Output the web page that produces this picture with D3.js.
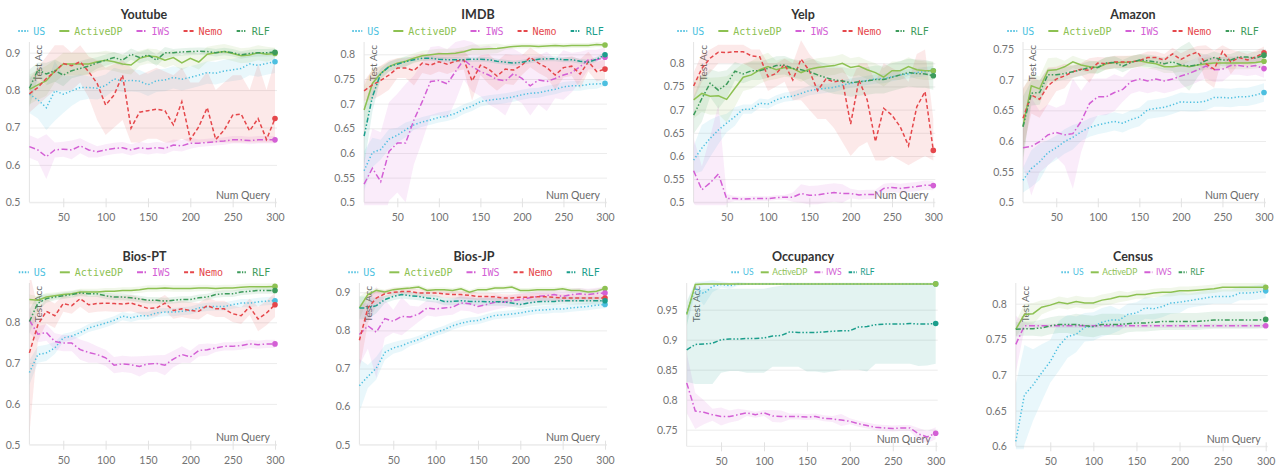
<!DOCTYPE html>
<html><head><meta charset="utf-8">
<script src="https://cdn.jsdelivr.net/npm/d3@7"></script>
<style>body{margin:0;background:#fff;}svg{display:block}</style>
</head><body><svg id="c" width="1277" height="466"></svg>
<script>
const numQuery = [10,20,30,40,50,60,70,80,90,100,110,120,130,140,150,160,170,180,190,200,210,220,230,240,250,260,270,280,290,300];
const xTicks = [50,100,150,200,250,300];

// ---------- Youtube ----------
const youtubeTicks = [0.5,0.6,0.7,0.8,0.9];
const youtubeUS = [0.789,0.774,0.753,0.798,0.789,0.798,0.807,0.807,0.805,0.812,0.830,0.824,0.826,0.824,0.814,0.825,0.827,0.834,0.829,0.834,0.840,0.847,0.845,0.851,0.854,0.858,0.870,0.866,0.871,0.876];
const youtubeActiveDP = [0.802,0.814,0.825,0.851,0.870,0.870,0.870,0.870,0.876,0.880,0.876,0.870,0.867,0.885,0.891,0.889,0.880,0.887,0.873,0.885,0.875,0.896,0.900,0.903,0.898,0.892,0.894,0.900,0.896,0.898];
const youtubeIWS = [0.649,0.640,0.622,0.640,0.642,0.640,0.651,0.640,0.635,0.640,0.644,0.646,0.640,0.646,0.643,0.646,0.644,0.653,0.651,0.658,0.658,0.660,0.662,0.664,0.667,0.667,0.665,0.667,0.667,0.667];
const youtubeNemo = [0.790,0.807,0.831,0.849,0.871,0.865,0.876,0.849,0.818,0.760,0.787,0.840,0.698,0.741,0.745,0.749,0.745,0.707,0.769,0.668,0.702,0.753,0.668,0.693,0.733,0.736,0.691,0.724,0.668,0.724];
const youtubeRLF = [0.805,0.854,0.843,0.852,0.840,0.852,0.858,0.864,0.873,0.880,0.887,0.880,0.896,0.887,0.894,0.880,0.900,0.900,0.902,0.903,0.904,0.903,0.900,0.903,0.900,0.894,0.898,0.900,0.900,0.901];
const youtubeUSSpread = [0.05,0.05,0.06,0.08,0.05,0.04,0.035,0.03,0.03,0.03,0.03,0.03,0.03,0.03,0.03,0.03,0.03,0.03,0.03,0.03,0.03,0.03,0.03,0.03,0.03,0.03,0.03,0.03,0.03,0.03];
const youtubeActiveDPSpread = [0.04,0.04,0.04,0.03,0.03,0.03,0.03,0.03,0.025,0.025,0.025,0.025,0.025,0.02,0.02,0.02,0.02,0.02,0.02,0.02,0.02,0.02,0.02,0.02,0.02,0.02,0.02,0.02,0.02,0.015];
const youtubeIWSSpread = [0.03,0.03,0.06,0.02,0.02,0.025,0.02,0.02,0.015,0.015,0.015,0.015,0.015,0.015,0.015,0.015,0.015,0.015,0.015,0.015,0.01,0.01,0.01,0.01,0.01,0.01,0.01,0.01,0.01,0.01];
const youtubeNemoLow = [0.74,0.76,0.78,0.80,0.80,0.80,0.82,0.78,0.72,0.68,0.70,0.72,0.66,0.66,0.67,0.67,0.66,0.66,0.67,0.66,0.66,0.66,0.66,0.66,0.66,0.66,0.66,0.66,0.66,0.66];
const youtubeNemoHigh = [0.83,0.86,0.89,0.92,0.92,0.90,0.92,0.89,0.88,0.86,0.87,0.88,0.86,0.84,0.85,0.86,0.85,0.84,0.86,0.82,0.82,0.85,0.80,0.82,0.84,0.84,0.80,0.87,0.80,0.88];
const youtubeRLFSpread = [0.05,0.02,0.03,0.03,0.03,0.02,0.02,0.02,0.015,0.015,0.015,0.015,0.015,0.015,0.015,0.015,0.015,0.01,0.01,0.01,0.01,0.01,0.01,0.01,0.01,0.01,0.01,0.01,0.01,0.01];

// ---------- IMDB ----------
const imdbTicks = [0.5,0.55,0.6,0.65,0.7,0.75,0.8];
const imdbUS = [0.564,0.601,0.607,0.628,0.636,0.647,0.657,0.663,0.667,0.672,0.675,0.680,0.689,0.695,0.704,0.707,0.709,0.711,0.714,0.718,0.721,0.722,0.726,0.729,0.734,0.736,0.736,0.739,0.740,0.741];
const imdbActiveDP = [0.687,0.741,0.761,0.775,0.782,0.786,0.792,0.797,0.799,0.801,0.801,0.802,0.805,0.810,0.810,0.811,0.812,0.814,0.816,0.817,0.817,0.816,0.817,0.818,0.817,0.818,0.818,0.818,0.820,0.819];
const imdbIWS = [0.537,0.569,0.542,0.603,0.620,0.620,0.667,0.704,0.745,0.747,0.740,0.765,0.789,0.775,0.765,0.758,0.749,0.746,0.761,0.751,0.736,0.748,0.745,0.751,0.758,0.763,0.775,0.789,0.789,0.794];
const imdbNemo = [0.726,0.738,0.747,0.758,0.772,0.772,0.767,0.782,0.778,0.785,0.780,0.786,0.789,0.746,0.778,0.770,0.756,0.770,0.768,0.778,0.794,0.782,0.773,0.758,0.773,0.776,0.760,0.785,0.765,0.770];
const imdbRLF = [0.634,0.714,0.761,0.775,0.780,0.785,0.789,0.792,0.792,0.790,0.789,0.789,0.789,0.790,0.790,0.789,0.786,0.784,0.782,0.784,0.787,0.790,0.791,0.791,0.789,0.789,0.786,0.784,0.790,0.799];
const imdbUSSpread = [0.04,0.03,0.02,0.02,0.015,0.015,0.01,0.01,0.01,0.01,0.01,0.01,0.01,0.01,0.01,0.01,0.01,0.01,0.01,0.01,0.01,0.01,0.01,0.01,0.01,0.01,0.01,0.01,0.01,0.005];
const imdbActiveDPSpread = [0.05,0.03,0.015,0.01,0.01,0.01,0.01,0.01,0.01,0.01,0.01,0.01,0.01,0.01,0.01,0.01,0.01,0.005,0.005,0.005,0.005,0.005,0.005,0.005,0.005,0.005,0.005,0.005,0.005,0.005];
const imdbIWSSpread = [0.05,0.08,0.1,0.1,0.1,0.12,0.09,0.08,0.07,0.07,0.07,0.06,0.04,0.05,0.05,0.06,0.06,0.07,0.05,0.05,0.06,0.05,0.06,0.04,0.05,0.04,0.03,0.02,0.02,0.02];
const imdbNemoSpread = [0.02,0.03,0.03,0.03,0.02,0.02,0.03,0.02,0.02,0.02,0.02,0.02,0.02,0.04,0.02,0.03,0.03,0.03,0.03,0.02,0.02,0.02,0.02,0.03,0.02,0.02,0.03,0.02,0.02,0.02];
const imdbRLFSpread = [0.06,0.03,0.01,0.01,0.01,0.01,0.005,0.005,0.005,0.005,0.005,0.005,0.005,0.005,0.005,0.005,0.005,0.005,0.005,0.005,0.005,0.005,0.005,0.005,0.005,0.005,0.005,0.005,0.005,0.005];

// ---------- Yelp ----------
const yelpTicks = [0.5,0.55,0.6,0.65,0.7,0.75,0.8];
const yelpUS = [0.591,0.617,0.638,0.656,0.671,0.685,0.701,0.701,0.714,0.712,0.721,0.727,0.729,0.735,0.741,0.744,0.746,0.748,0.753,0.757,0.760,0.763,0.766,0.767,0.771,0.775,0.777,0.780,0.782,0.784];
const yelpActiveDP = [0.721,0.735,0.729,0.730,0.722,0.746,0.770,0.775,0.786,0.793,0.786,0.791,0.789,0.780,0.787,0.791,0.793,0.795,0.800,0.791,0.794,0.786,0.780,0.770,0.784,0.784,0.793,0.786,0.784,0.784];
const yelpIWS = [0.568,0.527,0.542,0.561,0.508,0.508,0.507,0.508,0.508,0.508,0.510,0.511,0.511,0.519,0.515,0.516,0.519,0.521,0.519,0.519,0.516,0.517,0.517,0.530,0.532,0.530,0.532,0.534,0.537,0.536];
const yelpNemo = [0.751,0.789,0.811,0.824,0.823,0.825,0.825,0.816,0.814,0.771,0.778,0.798,0.764,0.809,0.784,0.741,0.766,0.760,0.763,0.669,0.764,0.721,0.631,0.703,0.688,0.663,0.622,0.706,0.739,0.612];
const yelpRLF = [0.688,0.724,0.757,0.742,0.755,0.783,0.777,0.784,0.784,0.789,0.795,0.796,0.789,0.786,0.782,0.775,0.769,0.764,0.762,0.758,0.760,0.762,0.765,0.765,0.770,0.775,0.780,0.778,0.777,0.773];
const yelpUSSpread = [0.03,0.05,0.04,0.03,0.02,0.02,0.01,0.01,0.01,0.01,0.01,0.01,0.01,0.01,0.01,0.01,0.01,0.01,0.01,0.01,0.01,0.01,0.01,0.01,0.01,0.01,0.01,0.01,0.01,0.01];
const yelpActiveDPSpread = [0.04,0.04,0.04,0.04,0.05,0.04,0.03,0.03,0.03,0.03,0.02,0.02,0.02,0.02,0.02,0.02,0.02,0.02,0.02,0.02,0.02,0.02,0.02,0.02,0.02,0.02,0.02,0.02,0.02,0.02];
const yelpIWSSpread = [0.07,0.05,0.1,0.15,0.01,0.005,0.005,0.005,0.005,0.005,0.005,0.005,0.01,0.02,0.02,0.02,0.02,0.02,0.02,0.01,0.01,0.01,0.01,0.01,0.01,0.01,0.01,0.01,0.01,0.01];
const yelpNemoLow = [0.72,0.76,0.78,0.80,0.80,0.80,0.80,0.79,0.78,0.74,0.75,0.76,0.72,0.72,0.70,0.68,0.68,0.66,0.63,0.60,0.62,0.63,0.59,0.59,0.60,0.59,0.58,0.59,0.60,0.59];
const yelpNemoHigh = [0.78,0.82,0.83,0.84,0.84,0.84,0.84,0.83,0.83,0.80,0.80,0.81,0.80,0.85,0.82,0.80,0.79,0.79,0.79,0.76,0.80,0.80,0.76,0.80,0.79,0.78,0.76,0.82,0.83,0.68];
const yelpRLFSpread = [0.04,0.05,0.03,0.04,0.03,0.02,0.02,0.02,0.02,0.02,0.02,0.02,0.02,0.02,0.03,0.03,0.03,0.03,0.03,0.03,0.03,0.03,0.03,0.03,0.03,0.03,0.03,0.03,0.03,0.03];

// ---------- Amazon ----------
const amazonTicks = [0.5,0.55,0.6,0.65,0.7,0.75];
const amazonUS = [0.536,0.555,0.566,0.581,0.589,0.599,0.606,0.615,0.622,0.626,0.629,0.632,0.629,0.635,0.639,0.651,0.653,0.655,0.659,0.664,0.663,0.663,0.665,0.671,0.671,0.670,0.672,0.672,0.675,0.679];
const amazonActiveDP = [0.624,0.690,0.685,0.715,0.716,0.721,0.729,0.724,0.721,0.720,0.726,0.728,0.728,0.729,0.731,0.728,0.726,0.721,0.721,0.723,0.721,0.724,0.726,0.727,0.727,0.727,0.727,0.727,0.728,0.730];
const amazonIWS = [0.589,0.591,0.599,0.610,0.614,0.610,0.612,0.632,0.661,0.672,0.672,0.679,0.684,0.697,0.701,0.698,0.701,0.698,0.701,0.706,0.710,0.716,0.722,0.716,0.717,0.723,0.723,0.721,0.723,0.718];
const amazonNemo = [0.637,0.675,0.668,0.690,0.701,0.706,0.713,0.717,0.715,0.727,0.726,0.729,0.729,0.729,0.731,0.736,0.736,0.732,0.742,0.733,0.740,0.745,0.726,0.717,0.746,0.729,0.736,0.732,0.737,0.744];
const amazonRLF = [0.623,0.678,0.679,0.708,0.708,0.710,0.713,0.716,0.720,0.720,0.727,0.728,0.722,0.728,0.732,0.731,0.729,0.726,0.729,0.724,0.722,0.724,0.731,0.736,0.732,0.732,0.737,0.737,0.735,0.740];
const amazonUSSpread = [0.02,0.03,0.03,0.02,0.02,0.02,0.02,0.015,0.015,0.015,0.015,0.015,0.015,0.015,0.015,0.015,0.015,0.015,0.015,0.015,0.015,0.015,0.015,0.015,0.015,0.015,0.015,0.015,0.015,0.015];
const amazonActiveDPSpread = [0.06,0.02,0.02,0.02,0.02,0.01,0.01,0.01,0.01,0.01,0.01,0.01,0.01,0.01,0.01,0.01,0.01,0.01,0.01,0.01,0.01,0.01,0.01,0.01,0.01,0.01,0.01,0.01,0.01,0.01];
const amazonIWSSpread = [0.03,0.08,0.05,0.05,0.04,0.05,0.09,0.05,0.04,0.03,0.03,0.03,0.02,0.02,0.02,0.02,0.02,0.02,0.02,0.02,0.02,0.02,0.02,0.02,0.02,0.015,0.015,0.015,0.015,0.015];
const amazonNemoSpread = [0.05,0.03,0.03,0.03,0.02,0.02,0.01,0.01,0.02,0.01,0.01,0.01,0.01,0.01,0.01,0.01,0.01,0.01,0.01,0.01,0.01,0.01,0.03,0.03,0.01,0.02,0.01,0.01,0.01,0.01];
const amazonRLFSpread = [0.05,0.02,0.02,0.01,0.01,0.01,0.01,0.01,0.01,0.01,0.01,0.01,0.01,0.01,0.01,0.01,0.01,0.01,0.015,0.03,0.04,0.02,0.01,0.01,0.01,0.01,0.01,0.01,0.01,0.01];

// ---------- Bios-PT ----------
const biosptTicks = [0.5,0.6,0.7,0.8];
const biosptUS = [0.677,0.721,0.725,0.737,0.762,0.766,0.775,0.786,0.792,0.798,0.805,0.815,0.811,0.816,0.816,0.823,0.825,0.825,0.827,0.829,0.835,0.838,0.839,0.839,0.843,0.847,0.847,0.850,0.852,0.853];
const biosptActiveDP = [0.856,0.854,0.862,0.865,0.868,0.870,0.874,0.874,0.874,0.876,0.876,0.878,0.878,0.880,0.883,0.883,0.884,0.883,0.883,0.883,0.884,0.884,0.883,0.884,0.884,0.886,0.887,0.887,0.887,0.888];
const biosptIWS = [0.805,0.771,0.775,0.753,0.749,0.749,0.733,0.726,0.721,0.713,0.695,0.698,0.696,0.692,0.698,0.699,0.695,0.710,0.721,0.715,0.731,0.733,0.737,0.741,0.741,0.743,0.747,0.745,0.747,0.747];
const biosptNemo = [0.725,0.794,0.827,0.816,0.846,0.841,0.858,0.843,0.846,0.847,0.846,0.845,0.847,0.841,0.834,0.835,0.847,0.829,0.833,0.829,0.827,0.841,0.833,0.833,0.821,0.816,0.838,0.808,0.823,0.843];
const biosptRLF = [0.802,0.847,0.858,0.862,0.865,0.868,0.872,0.870,0.870,0.865,0.862,0.862,0.860,0.857,0.854,0.854,0.852,0.854,0.856,0.856,0.860,0.862,0.868,0.870,0.870,0.874,0.876,0.878,0.878,0.878];
const biosptUSSpread = [0.03,0.02,0.02,0.015,0.01,0.01,0.01,0.01,0.01,0.01,0.01,0.01,0.01,0.01,0.01,0.01,0.01,0.01,0.01,0.01,0.01,0.01,0.01,0.01,0.01,0.01,0.01,0.01,0.01,0.01];
const biosptActiveDPSpread = [0.012,0.01,0.01,0.008,0.008,0.008,0.008,0.008,0.008,0.008,0.008,0.008,0.008,0.008,0.008,0.008,0.008,0.008,0.008,0.008,0.008,0.008,0.008,0.008,0.008,0.008,0.008,0.008,0.008,0.008];
const biosptIWSSpread = [0.03,0.02,0.02,0.02,0.02,0.02,0.025,0.025,0.02,0.02,0.02,0.02,0.02,0.025,0.02,0.02,0.025,0.02,0.02,0.015,0.015,0.015,0.01,0.01,0.01,0.01,0.01,0.01,0.01,0.01];
const biosptNemoSpread = [0.2,0.04,0.03,0.03,0.02,0.02,0.02,0.02,0.02,0.02,0.02,0.02,0.02,0.02,0.02,0.02,0.02,0.02,0.02,0.02,0.02,0.02,0.02,0.02,0.02,0.02,0.02,0.03,0.03,0.03];
const biosptRLFSpread = [0.03,0.02,0.01,0.008,0.008,0.008,0.008,0.008,0.008,0.008,0.008,0.008,0.008,0.008,0.008,0.008,0.008,0.008,0.008,0.008,0.008,0.008,0.008,0.008,0.008,0.008,0.008,0.008,0.008,0.008];

// ---------- Bios-JP ----------
const biosjpTicks = [0.5,0.6,0.7,0.8,0.9];
const biosjpUS = [0.655,0.679,0.701,0.742,0.754,0.760,0.769,0.776,0.786,0.795,0.802,0.812,0.819,0.824,0.826,0.833,0.839,0.841,0.843,0.846,0.850,0.853,0.854,0.856,0.856,0.859,0.861,0.863,0.866,0.868];
const biosjpActiveDP = [0.859,0.894,0.905,0.901,0.907,0.909,0.911,0.914,0.905,0.907,0.907,0.905,0.909,0.900,0.907,0.907,0.911,0.911,0.914,0.905,0.905,0.907,0.907,0.907,0.909,0.905,0.905,0.901,0.903,0.910];
const biosjpIWS = [0.789,0.812,0.795,0.831,0.824,0.837,0.835,0.843,0.859,0.856,0.859,0.861,0.872,0.870,0.863,0.868,0.874,0.874,0.878,0.881,0.885,0.889,0.891,0.894,0.889,0.894,0.896,0.894,0.897,0.898];
const biosjpNemo = [0.774,0.859,0.885,0.896,0.900,0.902,0.902,0.898,0.898,0.898,0.896,0.894,0.894,0.892,0.889,0.889,0.888,0.885,0.885,0.887,0.887,0.888,0.888,0.887,0.885,0.885,0.885,0.885,0.885,0.885];
const biosjpRLF = [0.859,0.859,0.865,0.881,0.889,0.894,0.891,0.889,0.885,0.883,0.876,0.876,0.878,0.876,0.876,0.875,0.875,0.875,0.872,0.868,0.872,0.875,0.876,0.876,0.878,0.878,0.878,0.878,0.878,0.878];
const biosjpUSSpread = [0.07,0.03,0.03,0.02,0.015,0.015,0.01,0.01,0.01,0.01,0.01,0.01,0.01,0.01,0.01,0.01,0.01,0.01,0.01,0.01,0.01,0.01,0.01,0.01,0.01,0.01,0.01,0.01,0.01,0.01];
const biosjpActiveDPSpread = [0.03,0.01,0.006,0.006,0.006,0.006,0.006,0.006,0.006,0.006,0.006,0.006,0.006,0.006,0.006,0.006,0.006,0.006,0.006,0.006,0.006,0.006,0.006,0.006,0.006,0.006,0.006,0.006,0.006,0.006];
const biosjpIWSSpread = [0.08,0.06,0.12,0.05,0.03,0.05,0.03,0.02,0.02,0.02,0.02,0.02,0.02,0.02,0.02,0.02,0.02,0.015,0.015,0.015,0.015,0.015,0.015,0.015,0.015,0.015,0.015,0.015,0.015,0.015];
const biosjpNemoSpread = [0.08,0.04,0.02,0.01,0.01,0.01,0.01,0.01,0.01,0.01,0.01,0.01,0.01,0.01,0.01,0.01,0.01,0.01,0.01,0.01,0.01,0.01,0.01,0.01,0.01,0.01,0.01,0.01,0.01,0.01];
const biosjpRLFSpread = [0.03,0.03,0.02,0.01,0.01,0.01,0.01,0.01,0.01,0.01,0.01,0.01,0.01,0.01,0.01,0.01,0.01,0.01,0.01,0.01,0.01,0.01,0.01,0.01,0.01,0.01,0.01,0.01,0.01,0.01];

// ---------- Occupancy ----------
const occTicks = [0.75,0.8,0.85,0.9,0.95];
const occUS = [0.944,0.986,0.977,0.989,0.992,0.990,0.993,0.993,0.993,0.993,0.993,0.993,0.993,0.993,0.993,0.993,0.993,0.993,0.993,0.993,0.993,0.993,0.993,0.993,0.993,0.993,0.993,0.993,0.993,0.993];
const occActiveDP = [0.942,0.992,0.993,0.993,0.993,0.993,0.993,0.993,0.993,0.993,0.993,0.993,0.993,0.993,0.993,0.993,0.993,0.993,0.993,0.993,0.993,0.993,0.993,0.993,0.993,0.993,0.993,0.993,0.993,0.993];
const occIWS = [0.828,0.781,0.779,0.775,0.772,0.772,0.775,0.778,0.775,0.778,0.773,0.772,0.772,0.772,0.771,0.772,0.769,0.768,0.766,0.764,0.760,0.757,0.754,0.753,0.752,0.753,0.753,0.743,0.738,0.744];
const occRLF = [0.883,0.892,0.893,0.894,0.900,0.901,0.901,0.902,0.902,0.903,0.906,0.907,0.913,0.912,0.912,0.912,0.913,0.914,0.915,0.915,0.921,0.922,0.925,0.926,0.926,0.926,0.927,0.926,0.926,0.927];
const occUSSpread = [0.02,0.01,0.02,0.01,0.005,0.005,0.003,0.002,0.002,0.002,0.002,0.002,0.002,0.002,0.002,0.002,0.002,0.002,0.002,0.002,0.002,0.002,0.002,0.002,0.002,0.002,0.002,0.002,0.002,0.002];
const occActiveDPSpread = [0.02,0.003,0.002,0.002,0.002,0.002,0.002,0.002,0.002,0.002,0.002,0.002,0.002,0.002,0.002,0.002,0.002,0.002,0.002,0.002,0.002,0.002,0.002,0.002,0.002,0.002,0.002,0.002,0.002,0.002];
const occIWSSpread = [0.05,0.03,0.02,0.01,0.015,0.01,0.01,0.005,0.005,0.005,0.01,0.01,0.005,0.005,0.005,0.005,0.005,0.005,0.01,0.005,0.005,0.005,0.005,0.005,0.005,0.005,0.005,0.01,0.01,0.01];
const occRLFLow = [0.83,0.826,0.826,0.826,0.845,0.848,0.848,0.845,0.845,0.845,0.855,0.855,0.855,0.855,0.847,0.847,0.845,0.847,0.85,0.85,0.85,0.847,0.86,0.86,0.86,0.86,0.86,0.856,0.857,0.86];
const occRLFHigh = [0.95,0.98,0.985,0.985,0.985,0.985,0.985,0.985,0.985,0.985,0.988,0.99,0.993,0.993,0.993,0.993,0.993,0.993,0.993,0.993,0.993,0.993,0.993,0.993,0.993,0.993,0.993,0.993,0.993,0.993];

// ---------- Census ----------
const censusTicks = [0.6,0.65,0.7,0.75,0.8];
const censusUS = [0.607,0.672,0.686,0.703,0.719,0.741,0.754,0.757,0.767,0.768,0.774,0.777,0.777,0.785,0.787,0.794,0.793,0.796,0.801,0.802,0.804,0.806,0.808,0.810,0.810,0.810,0.815,0.815,0.816,0.818];
const censusActiveDP = [0.764,0.785,0.786,0.795,0.798,0.802,0.800,0.803,0.801,0.801,0.805,0.807,0.810,0.810,0.813,0.813,0.815,0.816,0.816,0.818,0.818,0.819,0.820,0.821,0.823,0.823,0.823,0.823,0.823,0.823];
const censusIWS = [0.743,0.769,0.769,0.769,0.769,0.769,0.769,0.769,0.769,0.769,0.769,0.769,0.769,0.769,0.769,0.769,0.769,0.769,0.769,0.769,0.769,0.769,0.769,0.769,0.769,0.769,0.769,0.769,0.769,0.769];
const censusRLF = [0.764,0.765,0.765,0.766,0.769,0.771,0.771,0.771,0.769,0.768,0.771,0.771,0.771,0.772,0.773,0.773,0.774,0.775,0.775,0.775,0.775,0.775,0.776,0.777,0.777,0.777,0.777,0.777,0.777,0.778];
const censusUSSpread = [0.08,0.07,0.05,0.04,0.03,0.035,0.03,0.025,0.02,0.02,0.02,0.02,0.015,0.015,0.015,0.015,0.015,0.015,0.015,0.015,0.01,0.01,0.01,0.01,0.01,0.01,0.01,0.01,0.01,0.01];
const censusActiveDPSpread = [0.01,0.015,0.015,0.01,0.008,0.008,0.008,0.008,0.008,0.008,0.008,0.008,0.008,0.006,0.006,0.006,0.006,0.006,0.006,0.006,0.006,0.006,0.006,0.006,0.006,0.006,0.006,0.006,0.006,0.006];
const censusIWSSpread = [0.04,0.005,0.003,0.003,0.003,0.003,0.003,0.003,0.003,0.003,0.003,0.003,0.003,0.003,0.003,0.003,0.003,0.003,0.003,0.003,0.003,0.003,0.003,0.003,0.003,0.003,0.003,0.003,0.003,0.003];
const censusRLFSpread = [0.01,0.01,0.01,0.012,0.012,0.012,0.012,0.015,0.015,0.015,0.015,0.015,0.015,0.012,0.012,0.012,0.012,0.012,0.012,0.012,0.012,0.012,0.012,0.012,0.012,0.012,0.012,0.012,0.012,0.012];

// ---------- styles ----------
const COLORS = {US:"#4cbfe0", ActiveDP:"#8dc152", IWS:"#d35fd5", Nemo:"#e5474b"};
const RLF_GREEN = "#3d9b5b", RLF_TEAL = "#1b9e8c";
const DASH = {US:"1.3,2.2", ActiveDP:null, IWS:"6,2.5,1.5,2.5", Nemo:"4,2.5", RLF:"5,2,1.5,2,1.5,2"};
const LDASH = {US:"1.5,1.5", ActiveDP:null, IWS:"6,1.5,1.5,1.5", Nemo:"4,2", RLF:"3.5,1.3,1.3,1.3,1.3,1.3"};

const panels = [
 {title:"Youtube", cx:144, row:0, x0:29.4, x1:275, yA:[0.5,202.3], yB:[0.9,52.7], top:42, bottom:202.3, ticks:youtubeTicks, rlf:RLF_GREEN, mono:true,
  series:{US:{v:youtubeUS,s:youtubeUSSpread}, ActiveDP:{v:youtubeActiveDP,s:youtubeActiveDPSpread}, IWS:{v:youtubeIWS,s:youtubeIWSSpread}, Nemo:{v:youtubeNemo,lo:youtubeNemoLow,hi:youtubeNemoHigh}, RLF:{v:youtubeRLF,s:youtubeRLFSpread}}},
 {title:"IMDB", cx:478, row:0, x0:364.1, x1:605, yA:[0.5,202.3], yB:[0.8,54.3], top:42, bottom:202.3, ticks:imdbTicks, rlf:RLF_TEAL, mono:true,
  series:{US:{v:imdbUS,s:imdbUSSpread}, ActiveDP:{v:imdbActiveDP,s:imdbActiveDPSpread}, IWS:{v:imdbIWS,s:imdbIWSSpread}, Nemo:{v:imdbNemo,s:imdbNemoSpread}, RLF:{v:imdbRLF,s:imdbRLFSpread}}},
 {title:"Yelp", cx:803, row:0, x0:693.6, x1:933.3, yA:[0.5,202.3], yB:[0.8,63.3], top:42, bottom:202.3, ticks:yelpTicks, rlf:RLF_GREEN, mono:true,
  series:{US:{v:yelpUS,s:yelpUSSpread}, ActiveDP:{v:yelpActiveDP,s:yelpActiveDPSpread}, IWS:{v:yelpIWS,s:yelpIWSSpread}, Nemo:{v:yelpNemo,lo:yelpNemoLow,hi:yelpNemoHigh}, RLF:{v:yelpRLF,s:yelpRLFSpread}}},
 {title:"Amazon", cx:1133, row:0, x0:1023, x1:1264, yA:[0.5,202.3], yB:[0.75,49], top:42, bottom:202.3, ticks:amazonTicks, rlf:RLF_GREEN, mono:true,
  series:{US:{v:amazonUS,s:amazonUSSpread}, ActiveDP:{v:amazonActiveDP,s:amazonActiveDPSpread}, IWS:{v:amazonIWS,s:amazonIWSSpread}, Nemo:{v:amazonNemo,s:amazonNemoSpread}, RLF:{v:amazonRLF,s:amazonRLFSpread}}},
 {title:"Bios-PT", cx:144.5, row:1, x0:29.4, x1:275, yA:[0.5,444.7], yB:[0.8,322.3], top:283, bottom:444.7, ticks:biosptTicks, rlf:RLF_GREEN, mono:true,
  series:{US:{v:biosptUS,s:biosptUSSpread}, ActiveDP:{v:biosptActiveDP,s:biosptActiveDPSpread}, IWS:{v:biosptIWS,s:biosptIWSSpread}, Nemo:{v:biosptNemo,s:biosptNemoSpread}, RLF:{v:biosptRLF,s:biosptRLFSpread}}},
 {title:"Bios-JP", cx:474, row:1, x0:359.4, x1:605, yA:[0.5,444.7], yB:[0.9,292.3], top:283, bottom:444.7, ticks:biosjpTicks, rlf:RLF_TEAL, mono:true,
  series:{US:{v:biosjpUS,s:biosjpUSSpread}, ActiveDP:{v:biosjpActiveDP,s:biosjpActiveDPSpread}, IWS:{v:biosjpIWS,s:biosjpIWSSpread}, Nemo:{v:biosjpNemo,s:biosjpNemoSpread}, RLF:{v:biosjpRLF,s:biosjpRLFSpread}}},
 {title:"Occupancy", cx:803, row:1, x0:686.7, x1:935.7, yA:[0.75,429.7], yB:[0.95,309.7], top:283, bottom:446.3, ticks:occTicks, rlf:RLF_TEAL, mono:false,
  series:{US:{v:occUS,s:occUSSpread}, ActiveDP:{v:occActiveDP,s:occActiveDPSpread}, IWS:{v:occIWS,s:occIWSSpread}, RLF:{v:occRLF,lo:occRLFLow,hi:occRLFHigh}}},
 {title:"Census", cx:1133, row:1, x0:1015.8, x1:1265.7, yA:[0.6,446.3], yB:[0.8,303.7], top:283, bottom:446.3, ticks:censusTicks, rlf:RLF_GREEN, mono:false,
  series:{US:{v:censusUS,s:censusUSSpread}, ActiveDP:{v:censusActiveDP,s:censusActiveDPSpread}, IWS:{v:censusIWS,s:censusIWSSpread}, RLF:{v:censusRLF,s:censusRLFSpread}}}
];

const svg = d3.select("#c");
const FONT = "Lato, 'Open Sans', sans-serif";

panels.forEach((p, pi) => {
  const g = svg.append("g");
  const x = d3.scaleLinear().domain([10, 300]).range([p.x0, p.x1]);
  const y = d3.scaleLinear().domain([p.yA[0], p.yB[0]]).range([p.yA[1], p.yB[1]]);
  const colorOf = n => n === "RLF" ? p.rlf : COLORS[n];
  const titleY = p.row === 0 ? 18.5 : 261;
  const legendY = p.row === 0 ? 31 : 272.3;

  const ay = g.append("g").attr("transform", `translate(${p.x0},0)`)
    .call(d3.axisLeft(y).tickValues(p.ticks).tickSize(-(p.x1 - p.x0 + 2)).tickPadding(9).tickFormat(d => String(d)));
  ay.select(".domain").remove();
  ay.selectAll("line").attr("stroke", "#ececec");
  ay.selectAll("text").attr("fill", "#737373").style("font-size", "10.5px").style("font-family", FONT);

  g.append("line").attr("x1", p.x0).attr("x2", p.x0).attr("y1", p.top).attr("y2", p.bottom).attr("stroke", "#e4e4e4");
  g.append("line").attr("x1", p.x0).attr("x2", p.x1 + 2).attr("y1", p.bottom).attr("y2", p.bottom).attr("stroke", "#ececec");

  const ax = g.append("g").attr("transform", `translate(0,${p.bottom - 4})`)
    .call(d3.axisBottom(x).tickValues(xTicks).tickSize(9).tickPadding(6).tickFormat(d => String(d)));
  ax.select(".domain").remove();
  ax.selectAll("line").attr("stroke", "#e2e2e2");
  ax.selectAll("text").attr("fill", "#737373").attr("dy", null).attr("y", 23).style("font-size", "10.5px").style("font-family", FONT);

  g.append("text").attr("transform", `translate(${p.x0 + 13},${p.top + 3}) rotate(-90)`)
    .attr("text-anchor", "end").attr("fill", "#6a6a6a").style("font-size", "10px").style("font-family", FONT).text("Test Acc");
  g.append("text").attr("x", p.x1 - 5).attr("y", p.bottom - 3.5).attr("text-anchor", "end")
    .attr("fill", "#6a6a6a").style("font-size", "10.5px").style("font-family", FONT).text("Num Query");

  g.append("text").attr("x", p.cx).attr("y", titleY).attr("text-anchor", "middle").attr("fill", "#333")
    .style("font-size", "12.5px").style("font-weight", "bold").style("font-family", FONT).text(p.title);

  const cid = "clip" + pi;
  g.append("clipPath").attr("id", cid).append("rect")
    .attr("x", p.x0).attr("y", p.top - 3).attr("width", p.x1 - p.x0 + 4).attr("height", p.bottom - p.top + 6);

  const names = Object.keys(p.series);
  const area = d3.area().x((d, i) => x(numQuery[i])).y0(d => y(d[0])).y1(d => y(d[1]));
  const line = d3.line().x((d, i) => x(numQuery[i])).y(d => y(d));

  const bandG = g.append("g").attr("clip-path", `url(#${cid})`);
  names.forEach(n => {
    const s = p.series[n];
    const band = s.v.map((v, i) => s.s ? [v - s.s[i], v + s.s[i]] : [s.lo[i], s.hi[i]]);
    bandG.append("path").datum(band).attr("d", area).attr("fill", colorOf(n)).attr("fill-opacity", 0.12);
  });
  names.forEach(n => {
    const s = p.series[n];
    g.append("path").datum(s.v).attr("d", line).attr("fill", "none").attr("stroke", colorOf(n))
      .attr("stroke-width", 1.5).attr("stroke-dasharray", DASH[n]);
    g.append("circle").attr("cx", x(numQuery[numQuery.length - 1])).attr("cy", y(s.v[s.v.length - 1]))
      .attr("r", 2.8).attr("fill", colorOf(n));
  });

  const lg = g.append("g");
  const symW = p.mono ? 10 : 8, gapT = p.mono ? 5 : 3.5, gapI = p.mono ? 14 : 7;
  let cur = 0;
  names.forEach(n => {
    const it = lg.append("g");
    it.append("line").attr("x1", 0).attr("x2", symW).attr("y1", 0).attr("y2", 0)
      .attr("stroke", colorOf(n)).attr("stroke-width", 2).attr("stroke-dasharray", LDASH[n]);
    const t = it.append("text").attr("x", symW + gapT).attr("y", p.mono ? 3.6 : 3)
      .attr("fill", colorOf(n)).text(n);
    if (p.mono) t.style("font-family", "'DejaVu Sans Mono', monospace").style("font-size", "10px");
    else t.style("font-family", FONT).style("font-size", "8.5px");
    const w = symW + gapT + t.node().getComputedTextLength();
    it.attr("transform", `translate(${cur},0)`);
    cur += w + gapI;
  });
  const total = cur - gapI;
  lg.attr("transform", `translate(${p.cx - total / 2},${legendY})`);
});
</script>
</body></html>
